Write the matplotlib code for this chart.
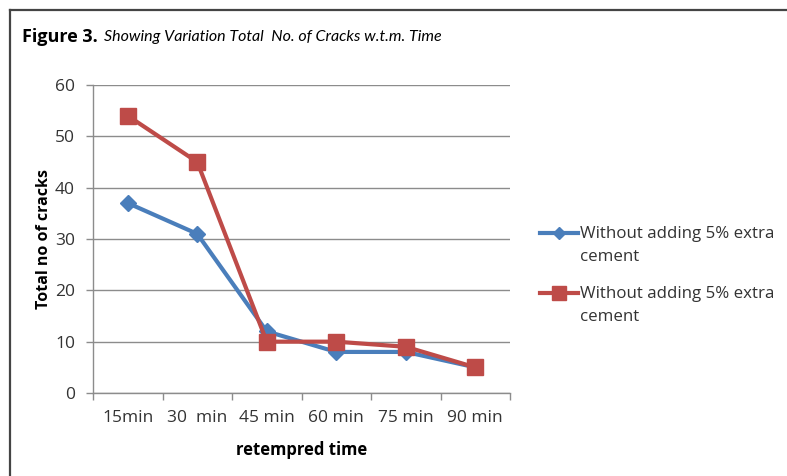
import matplotlib
matplotlib.use("Agg")
import matplotlib.pyplot as plt
from matplotlib.lines import Line2D

categories = ["15min", "30  min", "45 min", "60 min", "75 min", "90 min"]
series_a = [37, 31, 12, 8, 8, 5]
series_b = [54, 45, 10, 10, 9, 5]
series_labels = ["Without adding 5% extra\ncement", "Without adding 5% extra\ncement"]
y_ticks = [0, 10, 20, 30, 40, 50, 60]

BLUE = "#4A7EBB"
RED = "#BE4B48"
GRID = "#8C8C8C"
TEXT = "#333333"
W, H = 787, 476

plt.rcParams["font.family"] = ["Open Sans", "DejaVu Sans"]

fig = plt.figure(figsize=(W / 100, H / 100), dpi=100)
fig.patch.set_facecolor("white")


def fx(px):
    return px / W


def fy(py):
    return 1 - py / H


# outer frame: top and left rules
fig.add_artist(Line2D([fx(10), fx(10)], [0, fy(10)], color="#444444", lw=1.6, transform=fig.transFigure))
fig.add_artist(Line2D([fx(10), 1], [fy(10), fy(10)], color="#444444", lw=1.6, transform=fig.transFigure))

fig.text(fx(22), fy(37), "Figure 3.", fontsize=13, fontweight="bold", family=["Open Sans", "DejaVu Sans"],
         va="center", ha="left")
fig.text(fx(104), fy(37), "Showing Variation Total  No. of Cracks w.t.m. Time", fontsize=11.5, style="italic",
         family=["Lato", "DejaVu Sans"], va="center", ha="left")

ax = fig.add_axes([fx(93), fy(393), fx(510 - 93), (393 - 85) / H])
x = list(range(len(categories)))
styles = [(series_a, BLUE, "D", 8, 3), (series_b, RED, "s", 11, 4)]
for vals, col, mk, ms, z in styles:
    ax.plot(x, vals, color=col, lw=3, marker=mk, markersize=ms, zorder=z)

ax.set_xlim(-0.5, len(categories) - 0.5)
ax.set_ylim(0, 60)
ax.set_yticks(y_ticks)
ax.set_xticks(x)
ax.set_xticklabels(categories)
ax.set_xticks([i - 0.5 for i in range(len(categories) + 1)], minor=True)
ax.tick_params(axis="x", which="major", length=0, pad=12, labelsize=12.5, colors=TEXT)
ax.tick_params(axis="x", which="minor", length=5, color=GRID, width=1)
ax.tick_params(axis="y", length=5, color=GRID, width=1, labelsize=12.5, colors=TEXT, pad=8)

ax.grid(axis="y", color=GRID, lw=1)
ax.set_axisbelow(True)
for side in ["top", "right"]:
    ax.spines[side].set_visible(False)
for side in ["left", "bottom"]:
    ax.spines[side].set_color(GRID)
    ax.spines[side].set_linewidth(1)

ax.set_ylabel("Total no of cracks", fontsize=11.5, fontweight="bold", labelpad=2)
ax.set_xlabel("retempred time", fontsize=12, fontweight="bold", labelpad=11)

# legend: handle sits level with the first line of each two-line label
legend_rows = [(233, BLUE, "D", 6), (293, RED, "s", 9.5)]
for (ypx, col, mk, ms), label in zip(legend_rows, series_labels):
    fig.add_artist(Line2D([fx(540), fx(578)], [fy(ypx), fy(ypx)], color=col, lw=3,
                          transform=fig.transFigure))
    fig.add_artist(Line2D([fx(559)], [fy(ypx)], color=col, marker=mk, markersize=ms,
                          transform=fig.transFigure))
    fig.text(fx(580), fy(ypx - 7), label, fontsize=12.2, color=TEXT, va="top", ha="left",
             linespacing=1.55)

fig.savefig("out.png", dpi=100, facecolor="white")
